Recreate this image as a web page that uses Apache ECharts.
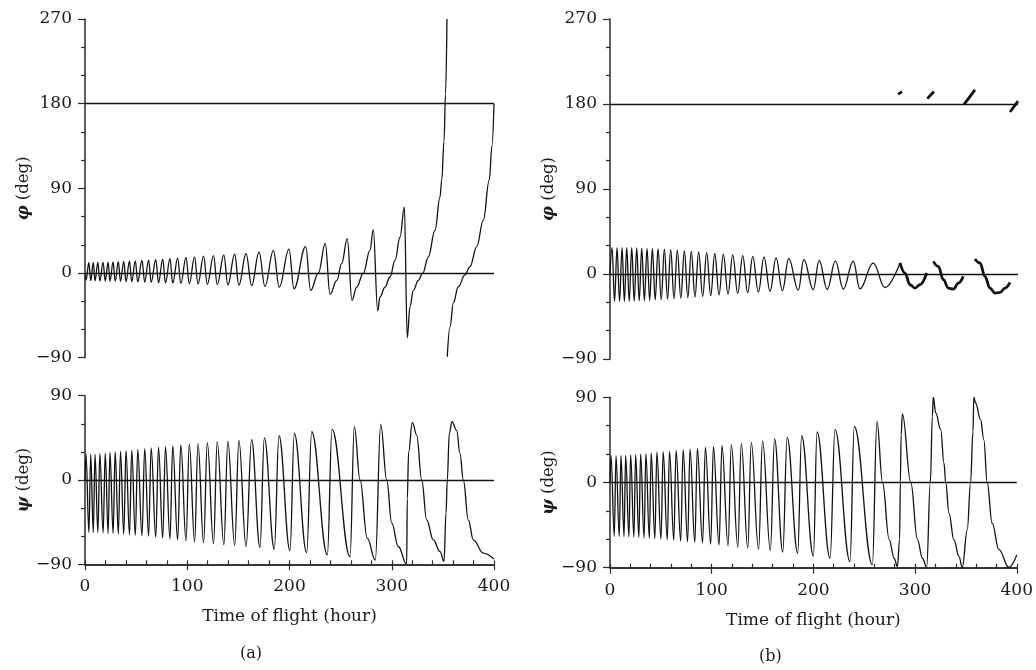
<!DOCTYPE html>
<html><head><meta charset="utf-8">
<script src="https://cdn.jsdelivr.net/npm/echarts@6/dist/echarts.min.js"></script>
<style>html,body{margin:0;padding:0;background:#fff}#c{width:1036px;height:670px}</style>
</head><body><div id="c"></div>
<script>
// ---- data: [time of flight (hour), angle (deg)] ----
const phiA_main = [[0,0],[1.0,-7.5],[3.8,11],[5.6,-8],[8.1,11],[9.8,-8.2],[12.6,11.2],[14.5,-8.4],[17.7,11.4],[19.8,-8.5],[22.6,11.6],[24.4,-8.6],[27.5,11.8],[29.5,-8.7],[32.6,12],[34.7,-8.8],[37.9,12.3],[40.1,-9],[43.5,12.6],[45.7,-9.2],[49.2,13],[51.6,-9.4],[55.7,13.4],[58.4,-9.6],[62.2,13.8],[64.7,-9.9],[69.2,14.3],[71.9,-10.2],[76,14.8],[78.7,-10.5],[83.1,15.3],[85.8,-10.8],[90.6,15.9],[93.7,-11.1],[98.8,16.5],[102,-11.4],[107.2,17.2],[110.5,-11.7],[116,17.9],[119.6,-12],[125.7,18.6],[129.3,-12.3],[135.8,19.3],[139.7,-12.7],[146.4,20],[150.5,-13],[157.5,20.6],[163,-13.4],[170.2,22.3],[176,-14.2],[184.2,23.8],[190,-14.9],[199.5,25.5],[204.4,-16.7],[215.8,28],[220.7,-18.5],[228.2,0],[235,31.6],[239.6,-22.7],[246.3,-7.8],[251,10],[256.5,36.6],[261.1,-29],[265.7,-14.9],[272.2,0],[278.7,24.1],[281.9,46.1],[286.3,-40.3],[288.5,-25.5],[293.4,-14.9],[298.3,-4.2],[303.2,13.5],[308.1,38.3],[312.3,70.1],[315.2,-68.7],[317.8,-36.1],[321.1,-18.4],[326,-7.8],[330.3,0],[335.7,17],[342.3,45.4],[347.2,80.8],[348.9,99],[351.1,140],[352.6,190],[354,270]];
const phiA_wrap = [[354.3,-89],[357,-57],[360.2,-32],[365.1,-14.6],[371.6,-2],[376.5,6.7],[383.1,28],[389.5,56],[395.4,99],[398,135],[400,180]];
const psiA = [[0,0],[1.0,27.4],[3.8,-56],[5.6,27.4],[8.1,-56],[9.8,27.4],[12.6,-56],[14.5,28],[17.7,-56.5],[19.8,28.7],[22.6,-57],[24.4,29.4],[27.5,-57],[29.5,30.2],[32.6,-57.5],[34.7,30.8],[37.9,-58],[40.1,31.3],[43.5,-58.5],[45.7,32],[49.2,-59],[51.6,32.7],[55.7,-59.5],[58.4,33.5],[62.2,-60],[64.7,34.2],[69.2,-61],[71.9,35],[76,-62],[78.7,35.6],[83.1,-63],[85.8,36.5],[90.6,-64],[93.7,37.4],[98.8,-65],[102,38.2],[107.2,-66],[110.5,38.8],[116,-67],[119.6,39.8],[125.7,-68],[129.3,40.9],[135.8,-69],[139.7,41.5],[146.4,-70],[150.5,42.2],[157.5,-71],[162.9,43],[171.1,-72],[175.4,45],[185.1,-74],[189.7,47.3],[200.5,-75.4],[204.7,49.8],[216.8,-77.5],[221.7,51.6],[237,-80],[241.6,54.1],[259.2,-81.9],[263.4,56.9],[269,0],[276,-62],[283.9,-85.4],[289.2,59.4],[295.1,0],[300,-46],[306.4,-71],[314.6,-90],[315.2,-20],[316.5,30],[320.1,61.6],[324.4,48],[329.3,0],[334.2,-42.7],[340.6,-64],[347.2,-76.5],[351.1,-87],[353.1,-35],[354.3,0],[356.3,50],[358.9,62.3],[363.5,53],[366.7,28.5],[370,0],[374.9,-42.7],[379.8,-64],[389.5,-78],[400,-84.3]];
const phiB_main = [[0,0],[2,28],[4.45,-29],[6.9,28],[9.35,-29],[11.8,28],[14.1,-29],[16.4,28],[18.85,-29],[21.3,27.8],[23.75,-28.8],[26.2,27.6],[28.65,-28.5],[31.1,27.4],[33.7,-28.2],[36.3,27.2],[38.9,-28],[41.5,27],[44.3,-27.5],[47.1,26.6],[50.2,-27],[53.3,26.2],[56.4,-26.6],[59.5,25.8],[62.75,-26.2],[66,25.2],[69.45,-25.6],[72.9,24.6],[76.3,-25],[79.7,24],[83.3,-24.4],[86.9,23.3],[90.85,-23.7],[94.8,22.5],[98.75,-23],[102.7,21.7],[106.9,-22.2],[111.1,21],[115.7,-21.4],[120.3,20.2],[125.2,-20.6],[130.1,19.4],[135,-19.8],[139.9,18.6],[145.45,-19],[151,17.8],[156.9,-18.3],[162.8,17],[169,-17.6],[175.2,16.3],[184.6,-17],[190,15.2],[199.3,-16.7],[205,14.5],[213,-16.4],[221,13.8],[228.7,-16],[238.5,13.5],[245,-15.8],[258,11.5],[269.6,-14.5],[284.3,11.7]];
const phiB_bold1 = [[284.3,11.7],[289.2,1],[294.1,-11.4],[299,-14.9],[303.9,-11.4],[310.5,1]];
const phiB_bold2 = [[317,13.4],[321.9,8],[326.8,-6],[331.7,-14.9],[336.6,-16],[341.5,-9.6],[346.4,-2.5]];
const phiB_bold3 = [[357.8,15.9],[362.7,11.7],[367.6,-2.5],[372.5,-14.9],[377.5,-20.2],[382.4,-19.5],[387.3,-14.9],[392.2,-8.9]];
const phiB_top1 = [[282.4,190.5],[286.3,193]];
const phiB_top2 = [[311.1,185.7],[317.6,193.2]];
const phiB_top3 = [[347.1,179.7],[357.8,194.9]];
const phiB_top4 = [[392.2,171.5],[400,183]];
const psiB = [[0,0],[1.0,28.3],[4.2,-57],[5.9,28.3],[9.1,-57],[10.8,28.5],[13.8,-57.2],[15.4,28.5],[18.6,-57.5],[20.3,29.3],[23.5,-57.8],[25.2,29.6],[28.4,-58],[30.1,30.2],[33.5,-58.5],[35.3,30.7],[38.7,-59],[40.5,31.3],[44.1,-59.5],[46.1,32.2],[50.1,-60],[52.3,32.5],[56.3,-60.5],[58.5,32.8],[62.7,-61],[65,33.8],[69.5,-62],[71.9,34.6],[76.3,-62.5],[78.7,35.3],[83.4,-63.5],[85.9,36],[91,-64],[93.8,37],[99,-65],[101.7,37.8],[107.2,-66],[110.1,38.8],[116.1,-67],[119.3,39.9],[125.7,-68.5],[129.1,41],[135.5,-69.5],[138.9,42.4],[146.1,-71],[150,44],[157.7,-72],[161.8,46],[169.9,-73.5],[174.2,47.7],[184.6,-74.8],[188.4,49.6],[200,-77.6],[203.6,53.4],[216.4,-80],[221.3,55.8],[236,-83.6],[240.2,59.3],[258,-87],[262.5,64.6],[268,0],[274.5,-60],[279.4,-80],[282.6,-88.9],[284.8,-60],[285.5,0],[286.3,50],[287.5,72.4],[295.8,0],[302.3,-60],[307.2,-80],[311.4,-89.6],[315,0],[317,70],[317.9,90.4],[320.3,73.5],[325.2,55.8],[328.4,20.5],[330.1,0],[333.3,-32],[338.2,-60.7],[343.1,-78],[346.4,-89.6],[351.3,-50],[354.6,0],[356.9,53.7],[357.8,90.4],[359.5,84],[364.4,66.4],[367.6,45],[370.9,0],[375.8,-43],[382.4,-71],[392.2,-89.6],[400,-76.5]];
const topTicks = [-90, 270, 90];      // min, max, step
const botTicks = [-90, 90, 90];
const timeTicks = [0, 400, 100, 20];  // min, max, major step, minor step
const refLinesTop = [0, 180];
const refLinesBot = [0];
const panelLabels = ['(a)', '(b)'];

const FONT = 'DejaVu Serif';
const TXT = '#1a1a1a';
const AX = '#2a2a2a';
const fmt = v => v < 0 ? '\u2212' + Math.abs(v) : String(v);

function yAx(grid, ticks, sym) {
  return {
    type: 'value', gridIndex: grid, min: ticks[0], max: ticks[1], interval: ticks[2],
    axisLine: {show: true, lineStyle: {color: AX, width: 1.5}},
    axisTick: {show: true, length: 7, lineStyle: {color: AX, width: 1.2}},
    minorTick: {show: true, splitNumber: 3, length: 4, lineStyle: {color: AX, width: 1.2}},
    splitLine: {show: false},
    axisLabel: {formatter: fmt, fontFamily: FONT, fontSize: 17, color: TXT, margin: 13},
    name: '{s|' + sym + '} (deg)', nameLocation: 'middle', nameGap: 50,
    nameTextStyle: {fontFamily: FONT, fontSize: 16.5, color: TXT,
      rich: {s: {fontFamily: FONT, fontSize: 16.5, fontStyle: 'italic', fontWeight: 'bold', color: TXT}}}
  };
}
function xAxHidden(grid) {
  return {type: 'value', gridIndex: grid, min: timeTicks[0], max: timeTicks[1], show: false};
}
function xAxMain(grid) {
  return {
    type: 'value', gridIndex: grid, position: 'bottom', min: timeTicks[0], max: timeTicks[1], interval: timeTicks[2],
    axisLine: {show: true, onZero: false, lineStyle: {color: AX, width: 1.5}},
    axisTick: {show: true, length: 6, lineStyle: {color: AX, width: 1.2}},
    splitLine: {show: false},
    axisLabel: {fontFamily: FONT, fontSize: 17, color: TXT, margin: 14},
    name: 'Time of flight (hour)', nameLocation: 'middle', nameGap: 44,
    nameTextStyle: {fontFamily: FONT, fontSize: 17, color: TXT}
  };
}
function xAxMinor(grid) {
  return {
    type: 'value', gridIndex: grid, position: 'bottom', offset: 0, min: timeTicks[0], max: timeTicks[1], interval: timeTicks[3],
    axisLine: {show: true, onZero: false, lineStyle: {color: AX, width: 1.5}},
    axisLabel: {show: false}, splitLine: {show: false},
    axisTick: {show: true, inside: true, length: 4, lineStyle: {color: AX, width: 1.2}}
  };
}
function curve(data, xi, yi, w, refs) {
  const s = {
    type: 'line', data: data, xAxisIndex: xi, yAxisIndex: yi,
    showSymbol: false, symbol: 'none', smooth: 0.4, smoothMonotone: 'x',
    lineStyle: {color: '#111', width: w || 1.3}, silent: true, z: 3
  };
  if (refs) s.markLine = {
    silent: true, symbol: ['none', 'none'], label: {show: false},
    lineStyle: {color: '#111', width: 1.3, type: 'solid'},
    data: refs.map(v => ({yAxis: v}))
  };
  return s;
}

const chart = echarts.init(document.getElementById('c'), null, {renderer: 'canvas'});
chart.setOption({
  animation: false,
  backgroundColor: '#fff',
  grid: [
    {left: 85, top: 19, width: 409, height: 338.7},
    {left: 85, top: 395.7, width: 409, height: 168.6},
    {left: 610, top: 19, width: 408, height: 340},
    {left: 610, top: 397.3, width: 408, height: 170.4}
  ],
  xAxis: [xAxHidden(0), xAxMain(1), xAxMinor(1), xAxHidden(2), xAxMain(3), xAxMinor(3)],
  yAxis: [yAx(0, topTicks, 'φ'), yAx(1, botTicks, 'ψ'), yAx(2, topTicks, 'φ'), yAx(3, botTicks, 'ψ')],
  graphic: [
    {type: 'text', left: 240, top: 646, style: {text: panelLabels[0], font: '16px "DejaVu Serif"', fill: TXT}},
    {type: 'text', left: 759, top: 649, style: {text: panelLabels[1], font: '16px "DejaVu Serif"', fill: TXT}}
  ],
  series: [
    curve(phiA_main, 0, 0, 1.3, refLinesTop),
    curve(phiA_wrap, 0, 0, 1.3),
    curve(psiA, 1, 1, 1.3, refLinesBot),
    curve(phiB_main, 3, 2, 1.3, refLinesTop),
    curve(phiB_bold1, 3, 2, 2.8),
    curve(phiB_bold2, 3, 2, 2.8),
    curve(phiB_bold3, 3, 2, 2.8),
    curve(phiB_top1, 3, 2, 2.8),
    curve(phiB_top2, 3, 2, 2.8),
    curve(phiB_top3, 3, 2, 2.8),
    curve(phiB_top4, 3, 2, 2.8),
    curve(psiB, 4, 3, 1.3, refLinesBot)
  ]
});
</script></body></html>
